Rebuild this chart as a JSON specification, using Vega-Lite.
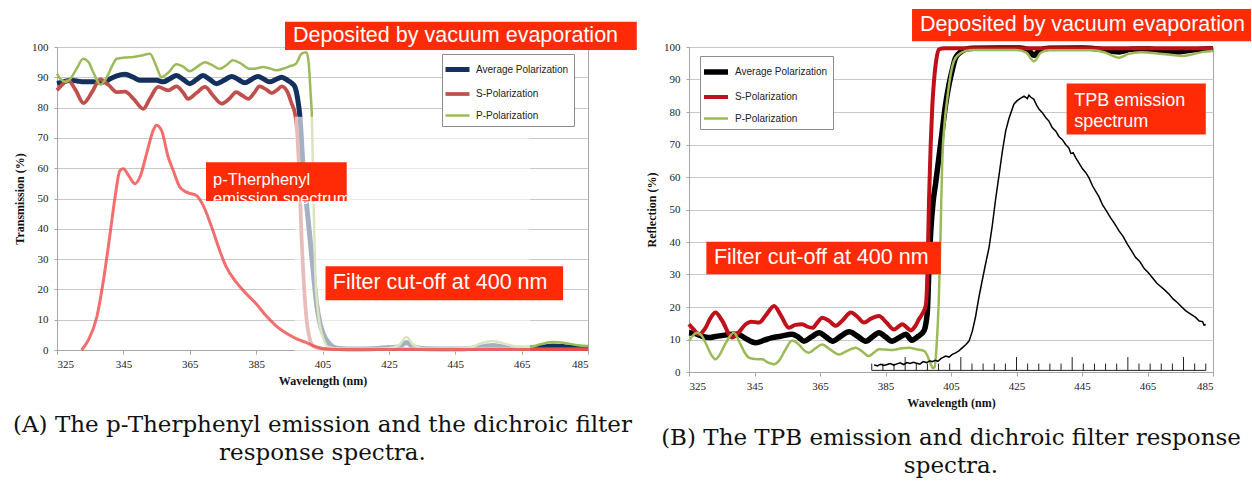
{
  "$schema": "https://vega.github.io/schema/vega-lite/v6.json",
  "background": "white",
  "padding": {"left": 12, "top": 8, "right": 0, "bottom": 0},
  "spacing": 7,
  "resolve": {"scale": {"color": "independent", "strokeWidth": "independent"}, "legend": {"color": "independent"}},
  "config": {
    "view": {"stroke": "#a6a6a6", "strokeWidth": 1},
    "axis": {
      "labelFont": "Liberation Serif", "labelFontSize": 11, "labelColor": "#222",
      "titleFont": "Liberation Serif", "titleFontSize": 12, "titleFontWeight": "bold", "titleColor": "#111",
      "gridColor": "#c8c8c8", "domainColor": "#a6a6a6", "tickColor": "#a6a6a6"
    },
    "axisX": {"tickSize": 4, "labelPadding": 4, "titlePadding": 6, "grid": false},
    "axisY": {"tickSize": 3, "labelPadding": 6, "titlePadding": 5, "grid": true, "tickCount": 11},
    "title": {"font": "DejaVu Serif", "fontSize": 23, "fontWeight": "normal", "color": "#111", "lineHeight": 28, "orient": "bottom", "anchor": "middle", "frame": "group", "offset": 19, "baseline": "top"},
    "legend": {"title": null, "orient": "none", "symbolType": "M-1.5,0H1.5", "symbolSize": 256, "symbolStrokeWidth": 2.5, "labelFont": "Liberation Sans", "labelFontSize": 10, "labelColor": "#222", "labelOffset": 8, "padding": 5, "rowPadding": 4, "strokeColor": "#8c8c8c", "fillColor": "#ffffff"}
  },
  "datasets": {
    "lf": [
      {"series": "Average Polarization", "nm": 325, "v": 88},
      {"series": "Average Polarization", "nm": 327, "v": 88.5},
      {"series": "Average Polarization", "nm": 329, "v": 89},
      {"series": "Average Polarization", "nm": 331, "v": 88.8},
      {"series": "Average Polarization", "nm": 333, "v": 88.5},
      {"series": "Average Polarization", "nm": 336, "v": 88.5},
      {"series": "Average Polarization", "nm": 338, "v": 88.3},
      {"series": "Average Polarization", "nm": 340, "v": 88.8},
      {"series": "Average Polarization", "nm": 341, "v": 89.5},
      {"series": "Average Polarization", "nm": 343, "v": 90.5},
      {"series": "Average Polarization", "nm": 345.5, "v": 91},
      {"series": "Average Polarization", "nm": 348, "v": 90},
      {"series": "Average Polarization", "nm": 350, "v": 89},
      {"series": "Average Polarization", "nm": 352.5, "v": 89},
      {"series": "Average Polarization", "nm": 355, "v": 89},
      {"series": "Average Polarization", "nm": 357, "v": 88.5},
      {"series": "Average Polarization", "nm": 359, "v": 89.5},
      {"series": "Average Polarization", "nm": 361, "v": 90.6},
      {"series": "Average Polarization", "nm": 363, "v": 89.3},
      {"series": "Average Polarization", "nm": 365, "v": 87.9},
      {"series": "Average Polarization", "nm": 367, "v": 89.2},
      {"series": "Average Polarization", "nm": 369, "v": 90.6},
      {"series": "Average Polarization", "nm": 371, "v": 89.3},
      {"series": "Average Polarization", "nm": 373, "v": 87.9},
      {"series": "Average Polarization", "nm": 375.3, "v": 89},
      {"series": "Average Polarization", "nm": 377.6, "v": 90.3},
      {"series": "Average Polarization", "nm": 379.6, "v": 89.3},
      {"series": "Average Polarization", "nm": 381.6, "v": 88.2},
      {"series": "Average Polarization", "nm": 383.6, "v": 89.3},
      {"series": "Average Polarization", "nm": 385.6, "v": 90.3},
      {"series": "Average Polarization", "nm": 387.3, "v": 89.4},
      {"series": "Average Polarization", "nm": 389, "v": 88.5},
      {"series": "Average Polarization", "nm": 391, "v": 89.3},
      {"series": "Average Polarization", "nm": 392.7, "v": 90},
      {"series": "Average Polarization", "nm": 394.5, "v": 89},
      {"series": "Average Polarization", "nm": 395.8, "v": 88},
      {"series": "Average Polarization", "nm": 396.7, "v": 86.8},
      {"series": "Average Polarization", "nm": 397.5, "v": 83},
      {"series": "Average Polarization", "nm": 398.2, "v": 77},
      {"series": "Average Polarization", "nm": 399.2, "v": 59.4},
      {"series": "Average Polarization", "nm": 400.2, "v": 48},
      {"series": "Average Polarization", "nm": 401.2, "v": 37.3},
      {"series": "Average Polarization", "nm": 402.2, "v": 26},
      {"series": "Average Polarization", "nm": 403.2, "v": 15.3},
      {"series": "Average Polarization", "nm": 404.2, "v": 9},
      {"series": "Average Polarization", "nm": 405.2, "v": 5.4},
      {"series": "Average Polarization", "nm": 406.5, "v": 2.8},
      {"series": "Average Polarization", "nm": 408.2, "v": 1},
      {"series": "Average Polarization", "nm": 410, "v": 0.5},
      {"series": "Average Polarization", "nm": 415, "v": 0.3},
      {"series": "Average Polarization", "nm": 420, "v": 0.4},
      {"series": "Average Polarization", "nm": 425, "v": 0.8},
      {"series": "Average Polarization", "nm": 428, "v": 1},
      {"series": "Average Polarization", "nm": 430.3, "v": 2.5},
      {"series": "Average Polarization", "nm": 432.5, "v": 1},
      {"series": "Average Polarization", "nm": 436, "v": 0.4},
      {"series": "Average Polarization", "nm": 445, "v": 0.3},
      {"series": "Average Polarization", "nm": 450, "v": 0.6},
      {"series": "Average Polarization", "nm": 454, "v": 1.2},
      {"series": "Average Polarization", "nm": 456.3, "v": 1.5},
      {"series": "Average Polarization", "nm": 459, "v": 1.1},
      {"series": "Average Polarization", "nm": 463, "v": 0.6},
      {"series": "Average Polarization", "nm": 467, "v": 0.6},
      {"series": "Average Polarization", "nm": 471, "v": 1},
      {"series": "Average Polarization", "nm": 474.4, "v": 1.3},
      {"series": "Average Polarization", "nm": 478, "v": 1.1},
      {"series": "Average Polarization", "nm": 482, "v": 0.7},
      {"series": "Average Polarization", "nm": 485, "v": 0.6},
      {"series": "S-Polarization", "nm": 325, "v": 85.7},
      {"series": "S-Polarization", "nm": 326.5, "v": 87.5},
      {"series": "S-Polarization", "nm": 328.4, "v": 89},
      {"series": "S-Polarization", "nm": 330.5, "v": 86},
      {"series": "S-Polarization", "nm": 333, "v": 81.5},
      {"series": "S-Polarization", "nm": 335.5, "v": 85},
      {"series": "S-Polarization", "nm": 338, "v": 89.3},
      {"series": "S-Polarization", "nm": 340.5, "v": 87.5},
      {"series": "S-Polarization", "nm": 343, "v": 85.1},
      {"series": "S-Polarization", "nm": 345.5, "v": 85.3},
      {"series": "S-Polarization", "nm": 348, "v": 83},
      {"series": "S-Polarization", "nm": 351, "v": 79.6},
      {"series": "S-Polarization", "nm": 353, "v": 83},
      {"series": "S-Polarization", "nm": 355.5, "v": 86.8},
      {"series": "S-Polarization", "nm": 358.5, "v": 85.7},
      {"series": "S-Polarization", "nm": 361, "v": 87},
      {"series": "S-Polarization", "nm": 363, "v": 85},
      {"series": "S-Polarization", "nm": 364.5, "v": 82.9},
      {"series": "S-Polarization", "nm": 367, "v": 84.8},
      {"series": "S-Polarization", "nm": 369.6, "v": 86.8},
      {"series": "S-Polarization", "nm": 372, "v": 84},
      {"series": "S-Polarization", "nm": 374.6, "v": 81.3},
      {"series": "S-Polarization", "nm": 377, "v": 83},
      {"series": "S-Polarization", "nm": 379, "v": 85.1},
      {"series": "S-Polarization", "nm": 380.8, "v": 84},
      {"series": "S-Polarization", "nm": 382.6, "v": 82.9},
      {"series": "S-Polarization", "nm": 384.5, "v": 85},
      {"series": "S-Polarization", "nm": 386, "v": 87},
      {"series": "S-Polarization", "nm": 388, "v": 86},
      {"series": "S-Polarization", "nm": 389.7, "v": 84.8},
      {"series": "S-Polarization", "nm": 391.3, "v": 85.8},
      {"series": "S-Polarization", "nm": 392.7, "v": 87},
      {"series": "S-Polarization", "nm": 394.5, "v": 85},
      {"series": "S-Polarization", "nm": 395.7, "v": 81.3},
      {"series": "S-Polarization", "nm": 396.7, "v": 78},
      {"series": "S-Polarization", "nm": 397.2, "v": 74},
      {"series": "S-Polarization", "nm": 398, "v": 58},
      {"series": "S-Polarization", "nm": 398.7, "v": 37},
      {"series": "S-Polarization", "nm": 399.5, "v": 20},
      {"series": "S-Polarization", "nm": 400.2, "v": 10},
      {"series": "S-Polarization", "nm": 401, "v": 4.5},
      {"series": "S-Polarization", "nm": 401.7, "v": 2},
      {"series": "S-Polarization", "nm": 403, "v": 0.8},
      {"series": "S-Polarization", "nm": 405, "v": 0.4},
      {"series": "S-Polarization", "nm": 420, "v": 0.3},
      {"series": "S-Polarization", "nm": 440, "v": 0.3},
      {"series": "S-Polarization", "nm": 460, "v": 0.3},
      {"series": "S-Polarization", "nm": 485, "v": 0.3},
      {"series": "P-Polarization", "nm": 325, "v": 91.2},
      {"series": "P-Polarization", "nm": 326, "v": 89.5},
      {"series": "P-Polarization", "nm": 327.5, "v": 88.5},
      {"series": "P-Polarization", "nm": 329, "v": 89.5},
      {"series": "P-Polarization", "nm": 331, "v": 93},
      {"series": "P-Polarization", "nm": 332.9, "v": 96.1},
      {"series": "P-Polarization", "nm": 334.5, "v": 95},
      {"series": "P-Polarization", "nm": 336, "v": 91.5},
      {"series": "P-Polarization", "nm": 338, "v": 87.6},
      {"series": "P-Polarization", "nm": 340, "v": 90},
      {"series": "P-Polarization", "nm": 341.5, "v": 93.5},
      {"series": "P-Polarization", "nm": 343, "v": 96.1},
      {"series": "P-Polarization", "nm": 345.5, "v": 96.5},
      {"series": "P-Polarization", "nm": 348, "v": 96.7},
      {"series": "P-Polarization", "nm": 350.5, "v": 97.2},
      {"series": "P-Polarization", "nm": 353, "v": 97.8},
      {"series": "P-Polarization", "nm": 354.8, "v": 94},
      {"series": "P-Polarization", "nm": 356.5, "v": 90},
      {"series": "P-Polarization", "nm": 358.5, "v": 91.5},
      {"series": "P-Polarization", "nm": 361, "v": 94.3},
      {"series": "P-Polarization", "nm": 363, "v": 93.5},
      {"series": "P-Polarization", "nm": 365, "v": 92},
      {"series": "P-Polarization", "nm": 367.3, "v": 93.5},
      {"series": "P-Polarization", "nm": 369.6, "v": 95},
      {"series": "P-Polarization", "nm": 371.8, "v": 94},
      {"series": "P-Polarization", "nm": 374, "v": 92.8},
      {"series": "P-Polarization", "nm": 376, "v": 94},
      {"series": "P-Polarization", "nm": 378, "v": 95.6},
      {"series": "P-Polarization", "nm": 380.5, "v": 94.5},
      {"series": "P-Polarization", "nm": 383, "v": 92.8},
      {"series": "P-Polarization", "nm": 385, "v": 92.9},
      {"series": "P-Polarization", "nm": 387, "v": 93.4},
      {"series": "P-Polarization", "nm": 389, "v": 93},
      {"series": "P-Polarization", "nm": 391, "v": 92.3},
      {"series": "P-Polarization", "nm": 393, "v": 92.8},
      {"series": "P-Polarization", "nm": 395, "v": 93.6},
      {"series": "P-Polarization", "nm": 397, "v": 94.5},
      {"series": "P-Polarization", "nm": 398.7, "v": 97.8},
      {"series": "P-Polarization", "nm": 400.2, "v": 98.3},
      {"series": "P-Polarization", "nm": 400.9, "v": 94},
      {"series": "P-Polarization", "nm": 401.4, "v": 85},
      {"series": "P-Polarization", "nm": 401.8, "v": 77},
      {"series": "P-Polarization", "nm": 402.3, "v": 50},
      {"series": "P-Polarization", "nm": 402.8, "v": 26},
      {"series": "P-Polarization", "nm": 403.5, "v": 14},
      {"series": "P-Polarization", "nm": 404.3, "v": 7.6},
      {"series": "P-Polarization", "nm": 405.5, "v": 3},
      {"series": "P-Polarization", "nm": 406.7, "v": 1},
      {"series": "P-Polarization", "nm": 410, "v": 0.4},
      {"series": "P-Polarization", "nm": 420, "v": 0.3},
      {"series": "P-Polarization", "nm": 425, "v": 0.6},
      {"series": "P-Polarization", "nm": 428, "v": 1.5},
      {"series": "P-Polarization", "nm": 430.3, "v": 4.3},
      {"series": "P-Polarization", "nm": 432.5, "v": 1.5},
      {"series": "P-Polarization", "nm": 436, "v": 0.4},
      {"series": "P-Polarization", "nm": 445, "v": 0.4},
      {"series": "P-Polarization", "nm": 450, "v": 1},
      {"series": "P-Polarization", "nm": 453, "v": 2.3},
      {"series": "P-Polarization", "nm": 456.3, "v": 3},
      {"series": "P-Polarization", "nm": 460, "v": 2},
      {"series": "P-Polarization", "nm": 464, "v": 1},
      {"series": "P-Polarization", "nm": 467, "v": 0.9},
      {"series": "P-Polarization", "nm": 471, "v": 2},
      {"series": "P-Polarization", "nm": 474.4, "v": 2.6},
      {"series": "P-Polarization", "nm": 478, "v": 2.3},
      {"series": "P-Polarization", "nm": 482, "v": 1.6},
      {"series": "P-Polarization", "nm": 485, "v": 1.3}
    ],
    "le": [
      {"nm": 332.4, "v": 0}, {"nm": 334.4, "v": 3.2}, {"nm": 337, "v": 10.9}, {"nm": 339, "v": 23},
      {"nm": 341, "v": 38.4}, {"nm": 342.5, "v": 50.5}, {"nm": 344, "v": 59.3}, {"nm": 345, "v": 59.8},
      {"nm": 346.5, "v": 57.7}, {"nm": 348.5, "v": 54.9}, {"nm": 350, "v": 57.1}, {"nm": 352, "v": 64.8},
      {"nm": 354, "v": 72.5}, {"nm": 355, "v": 74.2}, {"nm": 356.5, "v": 72.5}, {"nm": 358.5, "v": 63.7},
      {"nm": 360, "v": 59.3}, {"nm": 362, "v": 53.8}, {"nm": 364, "v": 52.1}, {"nm": 367, "v": 51},
      {"nm": 369, "v": 47.8}, {"nm": 371.6, "v": 40.6}, {"nm": 374, "v": 32.9}, {"nm": 376, "v": 27.4},
      {"nm": 379, "v": 22.4}, {"nm": 382, "v": 18.6}, {"nm": 385, "v": 15.3}, {"nm": 388, "v": 11.3},
      {"nm": 391, "v": 8}, {"nm": 394, "v": 5.6}, {"nm": 397.2, "v": 3.7}, {"nm": 400.2, "v": 2.4},
      {"nm": 403, "v": 1.1}, {"nm": 405.2, "v": 0.4}, {"nm": 410, "v": 0.2}, {"nm": 485, "v": 0.2}
    ],
    "rf": [
      {"series": "Average Polarization", "nm": 325, "v": 12.1},
      {"series": "Average Polarization", "nm": 327, "v": 11.8},
      {"series": "Average Polarization", "nm": 329, "v": 11},
      {"series": "Average Polarization", "nm": 331.1, "v": 10.6},
      {"series": "Average Polarization", "nm": 333, "v": 10.9},
      {"series": "Average Polarization", "nm": 335, "v": 11.2},
      {"series": "Average Polarization", "nm": 338.2, "v": 11.6},
      {"series": "Average Polarization", "nm": 340, "v": 11.6},
      {"series": "Average Polarization", "nm": 342, "v": 10.5},
      {"series": "Average Polarization", "nm": 345.4, "v": 9},
      {"series": "Average Polarization", "nm": 348, "v": 9.8},
      {"series": "Average Polarization", "nm": 350.4, "v": 10.6},
      {"series": "Average Polarization", "nm": 353, "v": 11},
      {"series": "Average Polarization", "nm": 356.5, "v": 11.6},
      {"series": "Average Polarization", "nm": 358.3, "v": 10.8},
      {"series": "Average Polarization", "nm": 360.1, "v": 9.5},
      {"series": "Average Polarization", "nm": 362.4, "v": 10.8},
      {"series": "Average Polarization", "nm": 364.7, "v": 12.1},
      {"series": "Average Polarization", "nm": 366.8, "v": 10.8},
      {"series": "Average Polarization", "nm": 368.8, "v": 9.5},
      {"series": "Average Polarization", "nm": 371.3, "v": 11},
      {"series": "Average Polarization", "nm": 373.9, "v": 12.4},
      {"series": "Average Polarization", "nm": 376.5, "v": 11},
      {"series": "Average Polarization", "nm": 379, "v": 9.5},
      {"series": "Average Polarization", "nm": 381, "v": 10.8},
      {"series": "Average Polarization", "nm": 383, "v": 12.1},
      {"series": "Average Polarization", "nm": 385, "v": 10.8},
      {"series": "Average Polarization", "nm": 387, "v": 9.5},
      {"series": "Average Polarization", "nm": 389, "v": 10.5},
      {"series": "Average Polarization", "nm": 391.2, "v": 11.6},
      {"series": "Average Polarization", "nm": 393, "v": 9.8},
      {"series": "Average Polarization", "nm": 395, "v": 11},
      {"series": "Average Polarization", "nm": 396.8, "v": 12.8},
      {"series": "Average Polarization", "nm": 397.3, "v": 14.7},
      {"series": "Average Polarization", "nm": 397.8, "v": 19},
      {"series": "Average Polarization", "nm": 398.3, "v": 33},
      {"series": "Average Polarization", "nm": 398.8, "v": 43},
      {"series": "Average Polarization", "nm": 399.5, "v": 52},
      {"series": "Average Polarization", "nm": 400.3, "v": 58},
      {"series": "Average Polarization", "nm": 401.3, "v": 66},
      {"series": "Average Polarization", "nm": 402.3, "v": 74},
      {"series": "Average Polarization", "nm": 403.3, "v": 82},
      {"series": "Average Polarization", "nm": 404.4, "v": 88.5},
      {"series": "Average Polarization", "nm": 405.4, "v": 93},
      {"series": "Average Polarization", "nm": 406.4, "v": 96.7},
      {"series": "Average Polarization", "nm": 408, "v": 98.5},
      {"series": "Average Polarization", "nm": 409.5, "v": 99.3},
      {"series": "Average Polarization", "nm": 412, "v": 99.6},
      {"series": "Average Polarization", "nm": 420, "v": 99.7},
      {"series": "Average Polarization", "nm": 426, "v": 99.7},
      {"series": "Average Polarization", "nm": 428.5, "v": 99.2},
      {"series": "Average Polarization", "nm": 430.3, "v": 97.4},
      {"series": "Average Polarization", "nm": 432, "v": 99},
      {"series": "Average Polarization", "nm": 435, "v": 99.6},
      {"series": "Average Polarization", "nm": 445, "v": 99.7},
      {"series": "Average Polarization", "nm": 450, "v": 99.4},
      {"series": "Average Polarization", "nm": 453, "v": 98.8},
      {"series": "Average Polarization", "nm": 456.3, "v": 98.5},
      {"series": "Average Polarization", "nm": 460, "v": 99.3},
      {"series": "Average Polarization", "nm": 465, "v": 99.4},
      {"series": "Average Polarization", "nm": 470, "v": 98.7},
      {"series": "Average Polarization", "nm": 474, "v": 98.4},
      {"series": "Average Polarization", "nm": 478, "v": 99},
      {"series": "Average Polarization", "nm": 485, "v": 99.5},
      {"series": "S-Polarization", "nm": 325, "v": 14.7},
      {"series": "S-Polarization", "nm": 326.5, "v": 13},
      {"series": "S-Polarization", "nm": 328, "v": 11.6},
      {"series": "S-Polarization", "nm": 330, "v": 13.5},
      {"series": "S-Polarization", "nm": 331.5, "v": 16.5},
      {"series": "S-Polarization", "nm": 333.1, "v": 18.3},
      {"series": "S-Polarization", "nm": 335, "v": 16},
      {"series": "S-Polarization", "nm": 338.2, "v": 10.6},
      {"series": "S-Polarization", "nm": 340, "v": 12},
      {"series": "S-Polarization", "nm": 342.3, "v": 14.7},
      {"series": "S-Polarization", "nm": 344, "v": 15.5},
      {"series": "S-Polarization", "nm": 346.4, "v": 15.2},
      {"series": "S-Polarization", "nm": 348.5, "v": 17.5},
      {"series": "S-Polarization", "nm": 351, "v": 20.3},
      {"series": "S-Polarization", "nm": 353, "v": 17.5},
      {"series": "S-Polarization", "nm": 355.5, "v": 13.6},
      {"series": "S-Polarization", "nm": 357.5, "v": 14.5},
      {"series": "S-Polarization", "nm": 359.6, "v": 14.7},
      {"series": "S-Polarization", "nm": 361, "v": 14},
      {"series": "S-Polarization", "nm": 362.7, "v": 13.6},
      {"series": "S-Polarization", "nm": 364.2, "v": 15.2},
      {"series": "S-Polarization", "nm": 365.7, "v": 16.7},
      {"series": "S-Polarization", "nm": 367.7, "v": 15.8},
      {"series": "S-Polarization", "nm": 369.8, "v": 14.2},
      {"series": "S-Polarization", "nm": 372, "v": 16},
      {"series": "S-Polarization", "nm": 374.4, "v": 18.3},
      {"series": "S-Polarization", "nm": 376.4, "v": 17},
      {"series": "S-Polarization", "nm": 378.4, "v": 15.2},
      {"series": "S-Polarization", "nm": 380.7, "v": 16.5},
      {"series": "S-Polarization", "nm": 383, "v": 17.2},
      {"series": "S-Polarization", "nm": 385.3, "v": 15.2},
      {"series": "S-Polarization", "nm": 387.6, "v": 13.1},
      {"series": "S-Polarization", "nm": 389, "v": 14},
      {"series": "S-Polarization", "nm": 390.1, "v": 14.7},
      {"series": "S-Polarization", "nm": 391.4, "v": 13.8},
      {"series": "S-Polarization", "nm": 392.7, "v": 12.8},
      {"series": "S-Polarization", "nm": 394, "v": 14},
      {"series": "S-Polarization", "nm": 395.2, "v": 16.2},
      {"series": "S-Polarization", "nm": 396.3, "v": 18},
      {"series": "S-Polarization", "nm": 397.3, "v": 20.5},
      {"series": "S-Polarization", "nm": 397.8, "v": 30},
      {"series": "S-Polarization", "nm": 398.3, "v": 53.6},
      {"series": "S-Polarization", "nm": 398.8, "v": 70},
      {"series": "S-Polarization", "nm": 399.3, "v": 82},
      {"series": "S-Polarization", "nm": 399.8, "v": 89.5},
      {"series": "S-Polarization", "nm": 400.5, "v": 96},
      {"series": "S-Polarization", "nm": 401.3, "v": 99.3},
      {"series": "S-Polarization", "nm": 403, "v": 99.6},
      {"series": "S-Polarization", "nm": 485, "v": 99.6},
      {"series": "P-Polarization", "nm": 325, "v": 9.5},
      {"series": "P-Polarization", "nm": 326, "v": 11},
      {"series": "P-Polarization", "nm": 327.5, "v": 12.1},
      {"series": "P-Polarization", "nm": 329, "v": 11},
      {"series": "P-Polarization", "nm": 330.5, "v": 8},
      {"series": "P-Polarization", "nm": 332, "v": 5},
      {"series": "P-Polarization", "nm": 333.1, "v": 3.9},
      {"series": "P-Polarization", "nm": 334.5, "v": 5.5},
      {"series": "P-Polarization", "nm": 336, "v": 8.5},
      {"series": "P-Polarization", "nm": 338.7, "v": 12.1},
      {"series": "P-Polarization", "nm": 340.5, "v": 9},
      {"series": "P-Polarization", "nm": 342, "v": 6},
      {"series": "P-Polarization", "nm": 343.3, "v": 4.4},
      {"series": "P-Polarization", "nm": 345, "v": 4},
      {"series": "P-Polarization", "nm": 347.4, "v": 3.9},
      {"series": "P-Polarization", "nm": 349, "v": 3},
      {"series": "P-Polarization", "nm": 351, "v": 2.4},
      {"series": "P-Polarization", "nm": 352.5, "v": 3.5},
      {"series": "P-Polarization", "nm": 354.5, "v": 7},
      {"series": "P-Polarization", "nm": 356.5, "v": 9.7},
      {"series": "P-Polarization", "nm": 358.5, "v": 8.5},
      {"series": "P-Polarization", "nm": 360, "v": 6.8},
      {"series": "P-Polarization", "nm": 361.6, "v": 5.9},
      {"series": "P-Polarization", "nm": 363.5, "v": 7.2},
      {"series": "P-Polarization", "nm": 365.7, "v": 8.5},
      {"series": "P-Polarization", "nm": 368, "v": 7},
      {"series": "P-Polarization", "nm": 370.8, "v": 5.4},
      {"series": "P-Polarization", "nm": 373.3, "v": 6.5},
      {"series": "P-Polarization", "nm": 375.9, "v": 7.5},
      {"series": "P-Polarization", "nm": 377.9, "v": 6.3},
      {"series": "P-Polarization", "nm": 379.9, "v": 4.9},
      {"series": "P-Polarization", "nm": 381.5, "v": 6},
      {"series": "P-Polarization", "nm": 383, "v": 7},
      {"series": "P-Polarization", "nm": 385, "v": 6.9},
      {"series": "P-Polarization", "nm": 387.1, "v": 6.8},
      {"series": "P-Polarization", "nm": 389.5, "v": 7.2},
      {"series": "P-Polarization", "nm": 392.2, "v": 7.5},
      {"series": "P-Polarization", "nm": 394.5, "v": 7},
      {"series": "P-Polarization", "nm": 396.8, "v": 6.5},
      {"series": "P-Polarization", "nm": 397.8, "v": 5},
      {"series": "P-Polarization", "nm": 398.8, "v": 2.4},
      {"series": "P-Polarization", "nm": 399.5, "v": 1.2},
      {"series": "P-Polarization", "nm": 400, "v": 1.5},
      {"series": "P-Polarization", "nm": 400.6, "v": 8},
      {"series": "P-Polarization", "nm": 401.3, "v": 22.9},
      {"series": "P-Polarization", "nm": 401.8, "v": 42},
      {"series": "P-Polarization", "nm": 402.3, "v": 64},
      {"series": "P-Polarization", "nm": 403, "v": 76},
      {"series": "P-Polarization", "nm": 403.9, "v": 84.4},
      {"series": "P-Polarization", "nm": 404.8, "v": 91},
      {"series": "P-Polarization", "nm": 405.9, "v": 95.7},
      {"series": "P-Polarization", "nm": 407.5, "v": 97.8},
      {"series": "P-Polarization", "nm": 409.5, "v": 98.8},
      {"series": "P-Polarization", "nm": 412, "v": 99.1},
      {"series": "P-Polarization", "nm": 425, "v": 99.1},
      {"series": "P-Polarization", "nm": 428, "v": 98.3},
      {"series": "P-Polarization", "nm": 430.3, "v": 95.6},
      {"series": "P-Polarization", "nm": 432.5, "v": 98.3},
      {"series": "P-Polarization", "nm": 435, "v": 99},
      {"series": "P-Polarization", "nm": 448, "v": 99},
      {"series": "P-Polarization", "nm": 452, "v": 98.3},
      {"series": "P-Polarization", "nm": 456.3, "v": 96.7},
      {"series": "P-Polarization", "nm": 459, "v": 97.8},
      {"series": "P-Polarization", "nm": 463, "v": 98.4},
      {"series": "P-Polarization", "nm": 468, "v": 98},
      {"series": "P-Polarization", "nm": 472, "v": 97.6},
      {"series": "P-Polarization", "nm": 475.6, "v": 97.2},
      {"series": "P-Polarization", "nm": 479, "v": 97.8},
      {"series": "P-Polarization", "nm": 482, "v": 98.5},
      {"series": "P-Polarization", "nm": 485, "v": 98.8}
    ],
    "rt": [
      {"nm": 381.5, "v": 2.2}, {"nm": 382.5, "v": 1.9}, {"nm": 383.5, "v": 2.4}, {"nm": 384.5, "v": 2.0},
      {"nm": 385.5, "v": 2.3}, {"nm": 386.5, "v": 2.6}, {"nm": 387.5, "v": 2.1}, {"nm": 388.5, "v": 2.5},
      {"nm": 389.5, "v": 2.8}, {"nm": 390.5, "v": 2.3}, {"nm": 391.5, "v": 2.9}, {"nm": 392.5, "v": 2.6},
      {"nm": 393.5, "v": 3.0}, {"nm": 394.5, "v": 2.7}, {"nm": 395.5, "v": 2.4}, {"nm": 396.5, "v": 3.2},
      {"nm": 397.5, "v": 2.9}, {"nm": 398.5, "v": 3.4}, {"nm": 399.3, "v": 3.2}, {"nm": 400.2, "v": 3.6},
      {"nm": 401, "v": 3.3}, {"nm": 402, "v": 4.2}, {"nm": 403.4, "v": 4.9}, {"nm": 404.4, "v": 4.6},
      {"nm": 405.4, "v": 5.4}, {"nm": 406.4, "v": 5.9}, {"nm": 407.4, "v": 6.5}, {"nm": 408.5, "v": 7.5},
      {"nm": 409.5, "v": 8.4}, {"nm": 410.5, "v": 9.5}, {"nm": 411.5, "v": 12.5}, {"nm": 412.5, "v": 17},
      {"nm": 413.5, "v": 22.9}, {"nm": 414.5, "v": 28}, {"nm": 415.5, "v": 33}, {"nm": 416.6, "v": 38.2},
      {"nm": 417.6, "v": 45}, {"nm": 418.6, "v": 53}, {"nm": 419.7, "v": 60.8}, {"nm": 420.7, "v": 68},
      {"nm": 421.7, "v": 74.2}, {"nm": 422.7, "v": 78}, {"nm": 424.2, "v": 82.4}, {"nm": 425.2, "v": 83.5},
      {"nm": 426.2, "v": 84.2}, {"nm": 427.3, "v": 84.9}, {"nm": 428.3, "v": 84.1}, {"nm": 428.8, "v": 85.2},
      {"nm": 429.3, "v": 84.6}, {"nm": 430.3, "v": 83.9}, {"nm": 431.1, "v": 82.2}, {"nm": 431.9, "v": 80.8},
      {"nm": 432.9, "v": 79.8}, {"nm": 433.9, "v": 78.3}, {"nm": 434.9, "v": 77.2}, {"nm": 435.9, "v": 75.2},
      {"nm": 437, "v": 74.1}, {"nm": 438, "v": 72.4}, {"nm": 439, "v": 71.5}, {"nm": 440, "v": 70},
      {"nm": 441, "v": 68.9}, {"nm": 441.6, "v": 67.2}, {"nm": 442.3, "v": 67.5}, {"nm": 443.1, "v": 65.9},
      {"nm": 444.1, "v": 64.3}, {"nm": 445.1, "v": 62.6}, {"nm": 446.1, "v": 61.4}, {"nm": 447.1, "v": 59.8},
      {"nm": 448.2, "v": 57.3}, {"nm": 449.2, "v": 55.6}, {"nm": 450.2, "v": 53.9}, {"nm": 451.2, "v": 51.6},
      {"nm": 452.5, "v": 49.5}, {"nm": 453.7, "v": 47.5}, {"nm": 455, "v": 45.6}, {"nm": 456.3, "v": 43.4},
      {"nm": 457.5, "v": 41.8}, {"nm": 458.8, "v": 39.4}, {"nm": 460, "v": 37.5}, {"nm": 461.4, "v": 35.2},
      {"nm": 462.7, "v": 33.9}, {"nm": 464, "v": 31.8}, {"nm": 465.2, "v": 30.6}, {"nm": 466.5, "v": 29},
      {"nm": 467.8, "v": 27.4}, {"nm": 469, "v": 26.3}, {"nm": 470.3, "v": 25.2}, {"nm": 471.6, "v": 23.9},
      {"nm": 472.9, "v": 22.4}, {"nm": 474.1, "v": 21.4}, {"nm": 475.4, "v": 20.1}, {"nm": 476.7, "v": 18.8},
      {"nm": 478.2, "v": 17.8}, {"nm": 479.7, "v": 16.8}, {"nm": 480.8, "v": 15.7}, {"nm": 481.8, "v": 15.5},
      {"nm": 482.3, "v": 14.4}, {"nm": 482.8, "v": 14.6}
    ],
    "tk": [
      {"nm": 380.8, "lo": 0.5, "hi": 2.6}, {"nm": 384.2, "lo": 0.5, "hi": 2.6}, {"nm": 387.6, "lo": 0.5, "hi": 2.6},
      {"nm": 391, "lo": 0.5, "hi": 4.6}, {"nm": 394.4, "lo": 0.5, "hi": 2.6}, {"nm": 397.8, "lo": 0.5, "hi": 2.6},
      {"nm": 401.2, "lo": 0.5, "hi": 2.6}, {"nm": 404.6, "lo": 0.5, "hi": 2.6}, {"nm": 408, "lo": 0.5, "hi": 4.6},
      {"nm": 411.4, "lo": 0.5, "hi": 2.6}, {"nm": 414.8, "lo": 0.5, "hi": 2.6}, {"nm": 418.2, "lo": 0.5, "hi": 2.6},
      {"nm": 421.6, "lo": 0.5, "hi": 2.6}, {"nm": 425, "lo": 0.5, "hi": 4.6}, {"nm": 428.4, "lo": 0.5, "hi": 2.6},
      {"nm": 431.8, "lo": 0.5, "hi": 2.6}, {"nm": 435.2, "lo": 0.5, "hi": 2.6}, {"nm": 438.6, "lo": 0.5, "hi": 2.6},
      {"nm": 442, "lo": 0.5, "hi": 4.6}, {"nm": 445.4, "lo": 0.5, "hi": 2.6}, {"nm": 448.8, "lo": 0.5, "hi": 2.6},
      {"nm": 452.2, "lo": 0.5, "hi": 2.6}, {"nm": 455.6, "lo": 0.5, "hi": 2.6}, {"nm": 459, "lo": 0.5, "hi": 4.6},
      {"nm": 462.4, "lo": 0.5, "hi": 2.6}, {"nm": 465.8, "lo": 0.5, "hi": 2.6}, {"nm": 469.2, "lo": 0.5, "hi": 2.6},
      {"nm": 472.6, "lo": 0.5, "hi": 2.6}, {"nm": 476, "lo": 0.5, "hi": 4.6}, {"nm": 479.4, "lo": 0.5, "hi": 2.6},
      {"nm": 482.8, "lo": 0.5, "hi": 2.6}
    ]
  },
  "hconcat": [
    {
      "width": 531,
      "height": 303,
      "title": {"text": ["(A) The p-Therphenyl emission and the dichroic filter", "response spectra."], "offset": 28},
      "layer": [
        {
          "data": {"name": "lf"},
          "mark": {"type": "line", "interpolate": "monotone"},
          "encoding": {
            "x": {"field": "nm", "type": "quantitative", "scale": {"domain": [325, 485], "nice": false, "zero": false},
                  "axis": {"values": [325, 345, 365, 385, 405, 425, 445, 465, 485], "title": "Wavelength (nm)"}},
            "y": {"field": "v", "type": "quantitative", "scale": {"domain": [0, 100], "nice": false},
                  "axis": {"values": [0, 10, 20, 30, 40, 50, 60, 70, 80, 90, 100], "tickCount": 11, "title": "Transmission (%)"}},
            "color": {"field": "series", "type": "nominal",
                      "scale": {"domain": ["Average Polarization", "S-Polarization", "P-Polarization"], "range": ["#14305f", "#c0504d", "#9bbb59"]},
                      "legend": {"legendX": 385, "legendY": 7,
                                 "encode": {"symbols": {"update": {"strokeWidth": {"signal": "datum.value === 'Average Polarization' ? 5 : 2.5"}}}}}},
            "strokeWidth": {"field": "series", "type": "nominal",
                            "scale": {"domain": ["Average Polarization", "S-Polarization", "P-Polarization"], "range": [5, 2.5, 2.5]}, "legend": null}
          }
        },
        {
          "data": {"values": [{"x1": 396.6, "x2": 467.5, "y1": -0.7, "y2": 77}]},
          "mark": {"type": "rect", "color": "white", "opacity": 0.62},
          "encoding": {
            "x": {"field": "x1", "type": "quantitative"}, "x2": {"field": "x2"},
            "y": {"field": "y1", "type": "quantitative"}, "y2": {"field": "y2"}
          }
        },
        {
          "data": {"name": "le"},
          "mark": {"type": "line", "interpolate": "monotone", "color": "#f04a4a", "strokeWidth": 3, "opacity": 0.8},
          "encoding": {"x": {"field": "nm", "type": "quantitative"}, "y": {"field": "v", "type": "quantitative"}}
        },
        {
          "data": {"values": [
            {"x1": 393.7, "x2": 499.7, "y1": 99, "y2": 108.3},
            {"x1": 369.9, "x2": 412.3, "y1": 49.2, "y2": 62},
            {"x1": 405.9, "x2": 477.5, "y1": 16.4, "y2": 27.6}
          ]},
          "mark": {"type": "rect", "color": "#ff2b06", "opacity": 1},
          "encoding": {
            "x": {"field": "x1", "type": "quantitative"}, "x2": {"field": "x2"},
            "y": {"field": "y1", "type": "quantitative"}, "y2": {"field": "y2"}
          }
        },
        {
          "data": {"values": [
            {"tx": 396.1, "ty": 103.6, "label": "Deposited by vacuum evaporation"},
            {"tx": 408.1, "ty": 22, "label": "Filter cut-off at 400 nm"}
          ]},
          "mark": {"type": "text", "font": "Liberation Sans", "fontSize": 21.5, "color": "white", "align": "left", "baseline": "middle"},
          "encoding": {"x": {"field": "tx", "type": "quantitative"}, "y": {"field": "ty", "type": "quantitative"}, "text": {"field": "label"}}
        },
        {
          "data": {"values": [{"tx": 372, "ty": 58.9, "label": ["p-Therphenyl", "emission spectrum"]}]},
          "mark": {"type": "text", "font": "Liberation Sans", "fontSize": 16.5, "lineHeight": 19.5, "color": "white", "align": "left", "baseline": "top"},
          "encoding": {"x": {"field": "tx", "type": "quantitative"}, "y": {"field": "ty", "type": "quantitative"}, "text": {"field": "label"}}
        }
      ]
    },
    {
      "width": 524,
      "height": 325,
      "title": {"text": ["(B) The TPB emission and dichroic filter response", "spectra."], "offset": 19},
      "layer": [
        {
          "data": {"name": "tk"},
          "mark": {"type": "rule", "color": "#222", "strokeWidth": 1},
          "encoding": {
            "x": {"field": "nm", "type": "quantitative", "scale": {"domain": [325, 485], "nice": false, "zero": false},
                  "axis": {"values": [325, 345, 365, 385, 405, 425, 445, 465, 485], "title": "Wavelength (nm)"}},
            "y": {"field": "lo", "type": "quantitative", "scale": {"domain": [0, 100], "nice": false},
                  "axis": {"values": [0, 10, 20, 30, 40, 50, 60, 70, 80, 90, 100], "tickCount": 11, "title": "Reflection (%)"}},
            "y2": {"field": "hi"}
          }
        },
        {
          "data": {"values": [{"a": 380.8, "b": 482.8, "v": 0.5}]},
          "mark": {"type": "rule", "color": "#222", "strokeWidth": 1},
          "encoding": {"x": {"field": "a", "type": "quantitative"}, "x2": {"field": "b"}, "y": {"field": "v", "type": "quantitative"}}
        },
        {
          "data": {"name": "rf"},
          "mark": {"type": "line", "interpolate": "monotone"},
          "encoding": {
            "x": {"field": "nm", "type": "quantitative"},
            "y": {"field": "v", "type": "quantitative"},
            "color": {"field": "series", "type": "nominal",
                      "scale": {"domain": ["Average Polarization", "S-Polarization", "P-Polarization"], "range": ["#000000", "#c0101a", "#9bbb59"]},
                      "legend": {"legendX": 11, "legendY": 9,
                                 "encode": {"symbols": {"update": {"strokeWidth": {"signal": "datum.value === 'Average Polarization' ? 6 : 2.5"}}}}}},
            "strokeWidth": {"field": "series", "type": "nominal",
                            "scale": {"domain": ["Average Polarization", "S-Polarization", "P-Polarization"], "range": [5.5, 2.5, 2.5]}, "legend": null}
          }
        },
        {
          "data": {"name": "rt"},
          "mark": {"type": "line", "color": "#000000", "strokeWidth": 1.5},
          "encoding": {"x": {"field": "nm", "type": "quantitative"}, "y": {"field": "v", "type": "quantitative"}}
        },
        {
          "data": {"values": [
            {"x1": 393.1, "x2": 496.6, "y1": 101.8, "y2": 111.7},
            {"x1": 440.3, "x2": 482.8, "y1": 73.1, "y2": 88.8},
            {"x1": 330.3, "x2": 401.9, "y1": 30.1, "y2": 40.1}
          ]},
          "mark": {"type": "rect", "color": "#ff2b06", "opacity": 1},
          "encoding": {
            "x": {"field": "x1", "type": "quantitative"}, "x2": {"field": "x2"},
            "y": {"field": "y1", "type": "quantitative"}, "y2": {"field": "y2"}
          }
        },
        {
          "data": {"values": [
            {"tx": 395.5, "ty": 106.8, "label": "Deposited by vacuum evaporation"},
            {"tx": 332.6, "ty": 35.1, "label": "Filter cut-off at 400 nm"}
          ]},
          "mark": {"type": "text", "font": "Liberation Sans", "fontSize": 21.5, "color": "white", "align": "left", "baseline": "middle"},
          "encoding": {"x": {"field": "tx", "type": "quantitative"}, "y": {"field": "ty", "type": "quantitative"}, "text": {"field": "label"}}
        },
        {
          "data": {"values": [{"tx": 442.6, "ty": 86.2, "label": ["TPB emission", "spectrum"]}]},
          "mark": {"type": "text", "font": "Liberation Sans", "fontSize": 18, "lineHeight": 21.6, "color": "white", "align": "left", "baseline": "top"},
          "encoding": {"x": {"field": "tx", "type": "quantitative"}, "y": {"field": "ty", "type": "quantitative"}, "text": {"field": "label"}}
        }
      ]
    }
  ]
}
